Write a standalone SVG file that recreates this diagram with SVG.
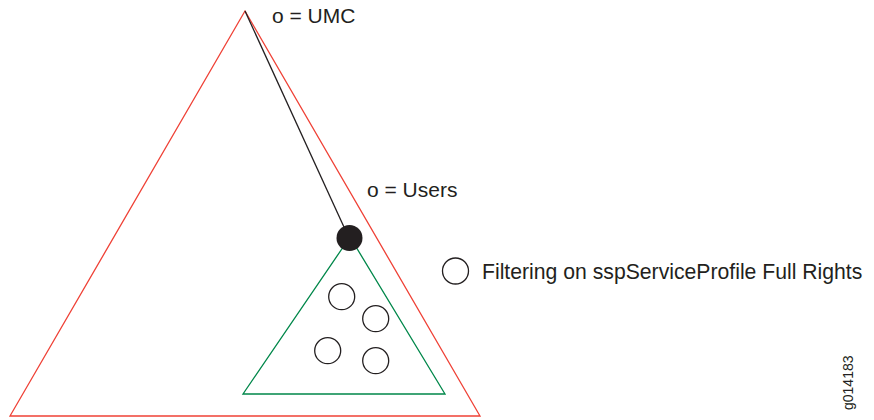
<svg xmlns="http://www.w3.org/2000/svg" width="874" height="420" viewBox="0 0 874 420">
<style>
text{font-family:"Liberation Sans",Arial,sans-serif;fill:#231f20}
.lbl{font-size:21px}
.c{fill:none;stroke:#231f20;stroke-width:1.3}
</style>
<rect width="874" height="420" fill="#fff"/>
<g id="outer"><polygon points="245,11 10,416 480,416" fill="none" stroke="#ef4136" stroke-width="1.3"/></g>
<g id="connectors"><line x1="245" y1="11" x2="349" y2="238" stroke="#231f20" stroke-width="1.3"/></g>
<g id="inner"><polygon points="350,237 243,394 445,394" fill="none" stroke="#00874a" stroke-width="1.3"/></g>
<g id="users"><circle cx="349.5" cy="238" r="13" fill="#231f20"/></g>
<g id="u1"><circle class="c" cx="341.7" cy="296.7" r="13"/></g>
<g id="u2"><circle class="c" cx="375.7" cy="318.7" r="13"/></g>
<g id="u3"><circle class="c" cx="327.7" cy="350.7" r="13"/></g>
<g id="u4"><circle class="c" cx="375.7" cy="360.7" r="13"/></g>
<g id="legend"><circle class="c" cx="455.5" cy="271" r="13"/>
<text class="lbl" x="482" y="279" style="font-size:21.2px">Filtering on sspServiceProfile Full Rights</text></g>
<g id="umc"><text class="lbl" x="272" y="23">o = UMC</text></g>
<g id="userslbl"><text class="lbl" x="367" y="197">o = Users</text></g>
<text x="853" y="410" font-size="14" transform="rotate(-90 853 410)">g014183</text>
</svg>
